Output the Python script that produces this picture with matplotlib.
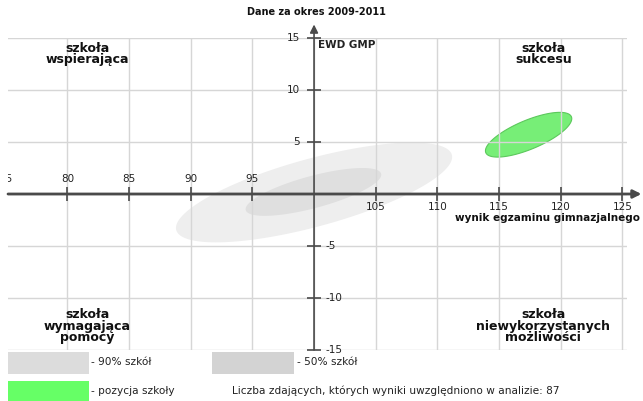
import numpy as np
import matplotlib
matplotlib.use("Agg")
import matplotlib.pyplot as plt
from matplotlib.patches import Rectangle
from matplotlib.transforms import offset_copy

# ellipse data: 90% of schools, 50% of schools, this school's position
names = ["90% szkół", "50% szkół", "pozycja szkoły"]
center_x = [100.0, 99.95, 117.4]
center_y = [0.15, 0.2, 5.7]
spread_x = [11.2, 5.5, 3.5]
spread_y = [4.8, 2.3, 2.15]
corr = [0.71, 0.72, 0.72]

x_ticks = [75, 80, 85, 90, 95, 105, 110, 115, 120, 125]
y_ticks = [-15, -10, -5, 5, 10, 15]
quadrants = ["szkoła\nwspierająca", "szkoła\nsukcesu",
             "szkoła\nwymagająca\npomocy", "szkoła\nniewykorzystanych\nmożliwości"]
n_students = 87

W, H = 643, 401
fig = plt.figure(figsize=(W / 100, H / 100), dpi=100)
ax = fig.add_axes([8 / W, (H - 350) / H, (627 - 8) / W, (350 - 38) / H])
x0, x1 = 75.18, 125.38
ax.set_xlim(x0, x1)
ax.set_ylim(-15, 15)
for s in ax.spines.values():
    s.set_visible(False)

ax.set_xticks(range(80, 126, 5))
ax.set_yticks(range(-15, 16, 5))
ax.tick_params(length=0, labelbottom=False, labelleft=False)
ax.grid(color="#d6d6d6", lw=1)
ax.set_axisbelow(False)


def ellipse(i):
    t = np.linspace(0, 2 * np.pi, 200)
    ex = center_x[i] + spread_x[i] * np.cos(t)
    ey = center_y[i] + spread_y[i] * (corr[i] * np.cos(t) + np.sqrt(1 - corr[i] ** 2) * np.sin(t))
    return ex, ey


ex, ey = ellipse(0)
ax.fill(ex, ey, color="#eeeeee", lw=0, zorder=1)
ex, ey = ellipse(1)
ax.fill(ex, ey, color="#dfdfdf", lw=0, zorder=1.1)
ex, ey = ellipse(2)
ax.fill(ex, ey, facecolor="#77ee77", edgecolor="#5cc85c", lw=0.8, zorder=1.2)

# axes with arrows
axis_col = "#4a4a4a"
ax.annotate("", xy=(126.55, 0), xytext=(x0, 0), annotation_clip=False,
            arrowprops=dict(arrowstyle="-|>", color=axis_col, lw=2, mutation_scale=12,
                            shrinkA=0, shrinkB=0), zorder=5)
ax.annotate("", xy=(100, 16.3), xytext=(100, -15), annotation_clip=False,
            arrowprops=dict(arrowstyle="-|>", color=axis_col, lw=1.2, mutation_scale=12,
                            shrinkA=0, shrinkB=0), zorder=5)

xt = [x for x in x_ticks if x > x0]
ax.plot(xt, [0] * len(xt), ls="none", marker="|", ms=10, mew=1.2, color=axis_col, zorder=6, clip_on=False)
ax.plot([100] * len(y_ticks), y_ticks, ls="none", marker="_", ms=10, mew=1.2, color=axis_col, zorder=6, clip_on=False)

above = offset_copy(ax.transData, fig=fig, x=0, y=7, units="points")
below = offset_copy(ax.transData, fig=fig, x=0, y=-6, units="points")
for x in x_ticks:
    if x < 100:
        ax.text(x, 0, str(x), transform=above, ha="center", va="bottom",
                fontsize=7.5, color="#222", clip_on=True)
    else:
        ax.text(x, 0, str(x), transform=below, ha="center", va="top",
                fontsize=7.5, color="#222")
for y in y_ticks:
    if y > 0:
        ax.annotate(str(y), (100, y), xytext=(-10, 0), textcoords="offset points",
                    ha="right", va="center", fontsize=7.5, color="#222")
    else:
        ax.annotate(str(y), (100, y), xytext=(8, 0), textcoords="offset points",
                    ha="left", va="center", fontsize=7.5, color="#222", annotation_clip=False)

ax.text(100.3, 14.8, "EWD GMP", ha="left", va="top", fontsize=7.5, fontweight="bold", color="#222")
ax.annotate("wynik egzaminu gimnazjalnego", (1, 0), xycoords=("figure fraction", "data"),
            xytext=(-2, -14), textcoords="offset points", ha="right", va="top",
            fontsize=7.5, fontweight="bold", color="#111", annotation_clip=False)

qpos = [(81.6, 14.6), (118.6, 14.6), (81.6, -11.0), (118.6, -11.0)]
for (qx, qy), q in zip(qpos, quadrants):
    ax.text(qx, qy, q, ha="center", va="top", fontsize=9, fontweight="bold",
            linespacing=0.82, color="#111")

fig.text(316 / W, 1 - 12 / H, "Dane za okres 2009-2011", ha="center", va="center",
         fontsize=7, fontweight="bold", color="#111")

# legend boxes under the chart
def box(x, y, w, h, c):
    fig.add_artist(Rectangle((x / W, 1 - (y + h) / H), w / W, h / H, color=c,
                             transform=fig.transFigure, lw=0))

box(8, 352, 81, 22, "#dcdcdc")
box(212, 352, 82, 22, "#d3d3d3")
box(8, 381, 81, 21, "#66ff66")
leg = dict(fontsize=7.6, va="center", ha="left", color="#222")
fig.text(91 / W, 1 - 362 / H, "- " + names[0], **leg)
fig.text(297 / W, 1 - 362 / H, "- " + names[1], **leg)
fig.text(91 / W, 1 - 391 / H, "- " + names[2], **leg)
fig.text(232 / W, 1 - 391 / H,
         "Liczba zdających, których wyniki uwzględniono w analizie: %d" % n_students, **leg)

fig.savefig("out.png", dpi=100)
